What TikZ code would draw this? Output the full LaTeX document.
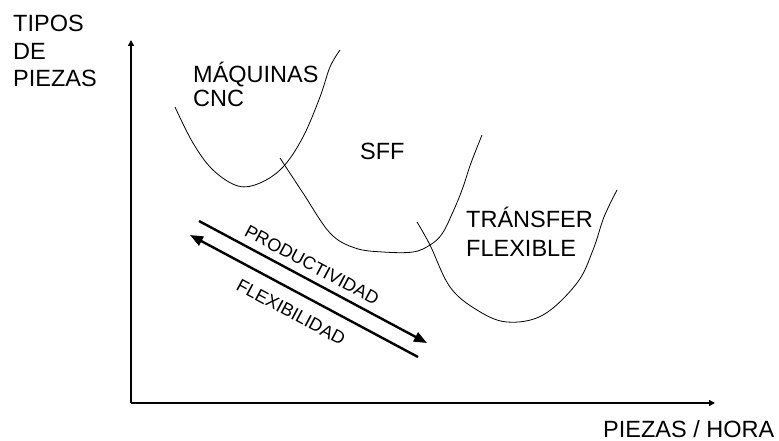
\documentclass[tikz,border=0pt]{standalone}
\usepackage{fontspec}
\setmainfont{Liberation Sans}
\usetikzlibrary{arrows.meta}
\tikzstyle{txt} = [inner sep=0pt, align=left, anchor=base west,
    font=\fontsize{23.5}{27.5}\selectfont]
\tikzstyle{small} = [inner sep=0pt, rotate=-28.2,
    font=\fontsize{18}{20}\selectfont]
\tikzstyle{axis} = [line width=1.8pt, -{Triangle[length=6pt,width=6pt]}]
\tikzstyle{trend} = [line width=2.4pt, -{Triangle[length=13pt,width=10pt]}]
\tikzstyle{curve} = [line width=0.8pt]

\begin{document}
\begin{tikzpicture}[x=1pt, y=-1pt]

            \useasboundingbox (0,0) rectangle (779,441);

            % Axes
            \coordinate (o) at (131,403);
            \coordinate (ytop) at (131,40);
            \coordinate (xend) at (715,403);
            \draw [axis] (o) -- (ytop);
            \draw [axis] (o) -- (xend);
            % base anchor sits on the last line
            \node (ylab) [txt] at (13,87) {TIPOS\\DE\\PIEZAS};
            \node (xlab) [txt] at (603,437) {PIEZAS / HORA};

            % Curves
            \draw [curve] plot [smooth, tension=0.6] coordinates {(175,107) (193,143)
                (213,170) (238,186) (260,183) (283,167) (303,137) (320,97)
                (330,67) (340,50)};
            \draw [curve] plot [smooth, tension=0.6] coordinates {(280,158) (303,193)
                (330,233) (355,248) (383,252) (413,252) (430,245) (442,234)
                (452,214) (462,190) (471,163) (482,135)};
            \draw [curve] plot [smooth, tension=0.6] coordinates {(417,222) (430,245)
                (450,287) (477,310) (507,322) (543,315) (577,283) (593,250)
                (604,217) (617,190)};
            \node (cnc) [txt, font=\fontsize{23.5}{24.5}\selectfont] at (193,107) {MÁQUINAS\\CNC};
            \node (sff) [txt] at (360,160) {SFF};
            \node (tf) [txt, font=\fontsize{23.5}{28.5}\selectfont] at (466,256) {TRÁNSFER\\FLEXIBLE};

            % Arrows
            \coordinate (p1) at (199,221);
            \coordinate (p2) at (427,343);
            \coordinate (f1) at (418,357);
            \coordinate (f2) at (190,235);
            \draw [trend] (p1) -- (p2);
            \draw [trend] (f1) -- (f2);
            \node (prod) [small] at (312,265) {PRODUCTIVIDAD};
            \node (flex) [small] at (291,312) {FLEXIBILIDAD};

        \end{tikzpicture}
\end{document}
